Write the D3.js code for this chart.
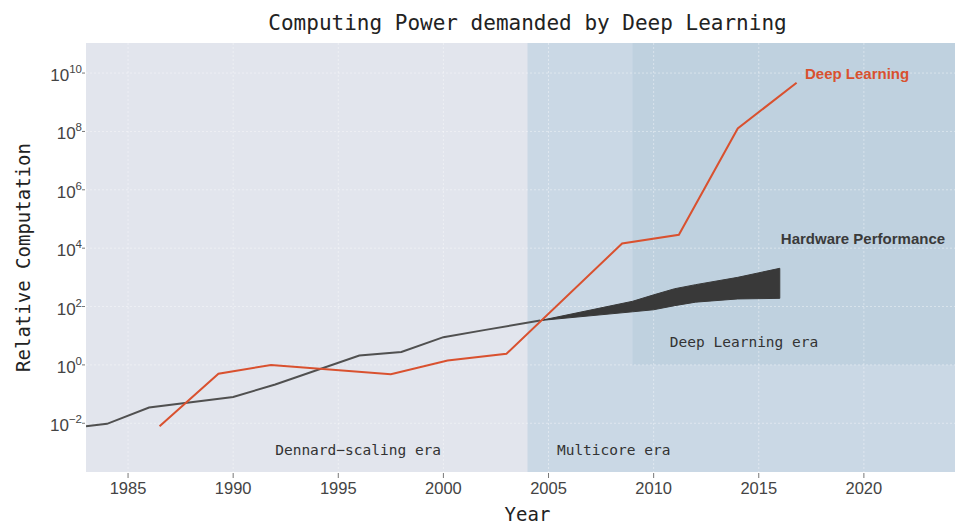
<!DOCTYPE html>
<html><head><meta charset="utf-8">
<script src="https://cdn.jsdelivr.net/npm/d3@7"></script>
<style>body{margin:0;background:#fff}</style>
</head><body><svg id="c" width="955" height="524"></svg>
<script>
// ---- data (log10 of relative computation) ----
const hwYears = [1983, 1984, 1986, 1990, 1992, 1996, 1998, 2000, 2002, 2004.6];
const hwLog10 = [-2.10, -2.02, -1.46, -1.10, -0.67, 0.32, 0.44, 0.95, 1.20, 1.52];
const dlYears = [1986.5, 1989.3, 1991.8, 1997.5, 2000.2, 2003, 2008.5, 2011.2, 2014, 2016.8];
const dlLog10 = [-2.10, -0.30, 0.00, -0.32, 0.15, 0.38, 4.16, 4.46, 8.10, 9.67];
const bandYears = [2004.6, 2009, 2010, 2011, 2012, 2014, 2016];
const bandUpperLog10 = [1.52, 2.18, 2.40, 2.61, 2.75, 3.00, 3.31];
const bandLowerLog10 = [1.52, 1.82, 1.89, 2.03, 2.15, 2.26, 2.28];
const xTicks = [1985, 1990, 1995, 2000, 2005, 2010, 2015, 2020];
const yTickExps = [-2, 0, 2, 4, 6, 8, 10];
const eraNames = ["Dennard\u2212scaling era", "Multicore era", "Deep Learning era"];
const eraStarts = [1983, 2004, 2009];
const seriesNames = ["Deep Learning", "Hardware Performance"];

// ---- layout ----
const svg = d3.select("#c");
const L = 86, R = 969, T = 43, B = 472;
const x = d3.scaleLinear().domain([1983, 2025]).range([L, R]);
const y = d3.scaleLog().domain([Math.pow(10, -3.67), Math.pow(10, 11.03)]).range([B, T]);
const yl = v => y(Math.pow(10, v));

svg.append("clipPath").attr("id", "pc").append("rect")
  .attr("x", L).attr("y", T).attr("width", R - L).attr("height", B - T);

const g = svg.append("g").attr("clip-path", "url(#pc)");
g.append("rect").attr("x", L).attr("y", T).attr("width", R - L).attr("height", B - T).attr("fill", "#e2e5ed");
// Multicore era
g.append("rect").attr("x", x(eraStarts[1])).attr("y", T)
  .attr("width", R - x(eraStarts[1])).attr("height", B - T).attr("fill", "#cad8e5");
// Deep Learning era (from 10^0 up)
g.append("rect").attr("x", x(eraStarts[2])).attr("y", T)
  .attr("width", R - x(eraStarts[2])).attr("height", yl(0) - T).attr("fill", "#bfd1df");

// grid
g.selectAll(".gx").data(xTicks).enter().append("line")
  .attr("x1", d => x(d)).attr("x2", d => x(d)).attr("y1", T).attr("y2", B)
  .attr("stroke", "#fff").attr("stroke-opacity", 0.4).attr("stroke-width", 1).attr("stroke-dasharray", "2,2");
g.selectAll(".gy").data(yTickExps).enter().append("line")
  .attr("x1", L).attr("x2", R).attr("y1", d => yl(d)).attr("y2", d => yl(d))
  .attr("stroke", "#fff").attr("stroke-opacity", 0.4).attr("stroke-width", 1).attr("stroke-dasharray", "2,2");

// hardware line
const hw = hwYears.map((d, i) => [d, hwLog10[i]]);
const line = d3.line().x(d => x(d[0])).y(d => yl(d[1]));
g.append("path").attr("d", line(hw)).attr("fill", "none").attr("stroke", "#505050").attr("stroke-width", 2);

// band
const band = bandYears.map((d, i) => [d, bandLowerLog10[i], bandUpperLog10[i]]);
const area = d3.area().x(d => x(d[0])).y0(d => yl(d[1])).y1(d => yl(d[2]));
g.append("path").attr("d", area(band)).attr("fill", "#393939").attr("stroke", "#393939").attr("stroke-width", 1);

// deep learning line
const dl = dlYears.map((d, i) => [d, dlLog10[i]]);
g.append("path").attr("d", line(dl)).attr("fill", "none").attr("stroke", "#d9512f").attr("stroke-width", 2);

// axes ticks
const tickCol = "#555";
svg.selectAll(".xt").data(xTicks).enter().append("line")
  .attr("x1", d => x(d)).attr("x2", d => x(d)).attr("y1", B + 1).attr("y2", B + 6)
  .attr("stroke", tickCol).attr("stroke-width", 0.8);
svg.selectAll(".xl").data(xTicks).enter().append("text")
  .attr("x", d => x(d)).attr("y", B + 22).attr("text-anchor", "middle")
  .attr("font-family", "Liberation Sans, Arial, sans-serif").attr("font-size", 16.5).attr("fill", "#444")
  .text(d => d);
svg.selectAll(".yt").data(yTickExps).enter().append("line")
  .attr("x1", L - 4).attr("x2", L - 1).attr("y1", d => yl(d)).attr("y2", d => yl(d))
  .attr("stroke", tickCol).attr("stroke-width", 0.8);
const yt = svg.selectAll(".yl").data(yTickExps).enter().append("text")
  .attr("x", L - 4).attr("y", d => yl(d) + 8).attr("text-anchor", "end")
  .attr("font-family", "Liberation Sans, Arial, sans-serif").attr("fill", "#444");
yt.append("tspan").attr("font-size", 17).text("10");
yt.append("tspan").attr("font-size", 11.5).attr("dy", -8).text(d => (d < 0 ? "\u2212" + (-d) : d));

// axis labels and title
const mono = "DejaVu Sans Mono, monospace";
svg.append("text").attr("x", (L + R) / 2).attr("y", 30).attr("text-anchor", "middle")
  .attr("font-family", mono).attr("font-size", 21).attr("fill", "#222")
  .text("Computing Power demanded by Deep Learning");
svg.append("text").attr("x", (L + R) / 2).attr("y", 521).attr("text-anchor", "middle")
  .attr("font-family", mono).attr("font-size", 19).attr("fill", "#222").text("Year");
svg.append("text").attr("transform", `translate(30,${(T + B) / 2}) rotate(-90)`).attr("text-anchor", "middle")
  .attr("font-family", mono).attr("font-size", 19).attr("fill", "#222").text("Relative Computation");

// era labels
const eraLabelPos = [[1992.0, -3.09], [2005.4, -3.09], [2010.77, 0.61]];
eraNames.forEach((n, i) => {
  svg.append("text").attr("x", x(eraLabelPos[i][0])).attr("y", yl(eraLabelPos[i][1]))
    .attr("font-family", mono).attr("font-size", 14.5).attr("fill", "#333").text(n);
});

// series labels
svg.append("text").attr("x", x(2017.2)).attr("y", yl(9.8))
  .attr("font-family", "Liberation Sans, Arial, sans-serif").attr("font-weight", "bold")
  .attr("font-size", 15).attr("fill", "#d9512f").text(seriesNames[0]);
svg.append("text").attr("x", x(2016.05)).attr("y", yl(4.14))
  .attr("font-family", "Liberation Sans, Arial, sans-serif").attr("font-weight", "bold")
  .attr("font-size", 15).attr("fill", "#3a3a3a").text(seriesNames[1]);
</script></body></html>
